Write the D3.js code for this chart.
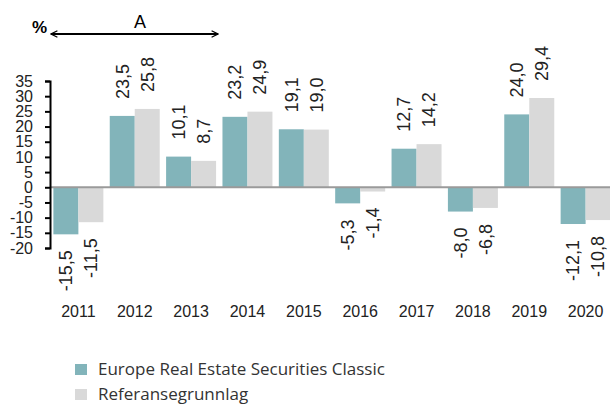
<!DOCTYPE html>
<html>
<head>
<meta charset="utf-8">
<script src="https://cdn.jsdelivr.net/npm/d3@7"></script>
<style>
  body { margin: 0; background: #fff; }
  svg { display: block; }
</style>
</head>
<body>
<div id="chart"></div>
<script>
const years = ["2011", "2012", "2013", "2014", "2015", "2016", "2017", "2018", "2019", "2020"];
const fund = [-15.5, 23.5, 10.1, 23.2, 19.1, -5.3, 12.7, -8.0, 24.0, -12.1];
const benchmark = [-11.5, 25.8, 8.7, 24.9, 19.0, -1.4, 14.2, -6.8, 29.4, -10.8];
const seriesNames = ["Europe Real Estate Securities Classic", "Referansegrunnlag"];
const yTicks = [35, 30, 25, 20, 15, 10, 5, 0, -5, -10, -15, -20];

function main() {
    const width = 610;
    const height = 404;
    const colors = ["#82b4ba", "#d9d9d9"];
    const numFont = "'Liberation Sans', Arial, sans-serif";

    const svg = d3.select("#chart").append("svg")
        .attr("width", width)
        .attr("height", height);

    const x0 = d3.scaleBand()
        .domain(years)
        .range([50, 614])
        .paddingInner(0.113)
        .paddingOuter(0.06);

    const x1 = d3.scaleBand()
        .domain([0, 1])
        .range([0, x0.bandwidth()]);

    const y = d3.scaleLinear()
        .domain([-20, 35])
        .range([248, 81]);

    // plain hyphen minus, comma decimal
    const fmt = v => d3.format(".1f")(v).replace("\u2212", "-").replace(".", ",");

    const data = years.map((yr, i) => ({ year: yr, values: [fund[i], benchmark[i]] }));

    // bars
    const groups = svg.append("g").selectAll("g")
        .data(data)
        .enter().append("g")
        .attr("transform", d => "translate(" + x0(d.year) + ",0)");

    groups.selectAll("rect")
        .data(d => d.values.map((v, k) => ({ v: v, k: k })))
        .enter().append("rect")
        .attr("x", d => x1(d.k))
        .attr("width", x1.bandwidth())
        .attr("y", d => y(Math.max(0, d.v)))
        .attr("height", d => Math.abs(y(d.v) - y(0)))
        .attr("fill", d => colors[d.k]);

    // value labels, rotated
    groups.selectAll("text")
        .data(d => d.values.map((v, k) => ({ v: v, k: k })))
        .enter().append("text")
        .attr("transform", d => {
            const cx = x1(d.k) + x1.bandwidth() / 2;
            const cy = d.v >= 0 ? y(d.v) - 17 : y(d.v) + 16;
            return "translate(" + cx + "," + cy + ") rotate(-90)";
        })
        .attr("text-anchor", d => d.v >= 0 ? "start" : "end")
        .attr("dy", "0.35em")
        .attr("font-family", numFont)
        .attr("font-size", "18px")
        .attr("fill", "#222")
        .text(d => fmt(d.v));

    // zero line
    svg.append("line")
        .attr("x1", 50).attr("x2", width)
        .attr("y1", y(0)).attr("y2", y(0))
        .attr("stroke", "#9a9a9a")
        .attr("stroke-width", 2);

    // y axis
    const yAxis = svg.append("g")
        .attr("transform", "translate(50,0)")
        .call(d3.axisLeft(y).tickValues(yTicks).tickSize(5).tickPadding(12)
            .tickFormat(d => String(d)));
    yAxis.select(".domain").attr("stroke", "#000").attr("stroke-width", 2);
    yAxis.selectAll(".tick line").attr("stroke", "#000").attr("stroke-width", 2);
    yAxis.selectAll("text")
        .attr("font-family", numFont)
        .attr("font-size", "16px")
        .attr("fill", "#222");

    // year labels
    svg.append("g").selectAll("text")
        .data(years)
        .enter().append("text")
        .attr("x", d => x0(d) + x0.bandwidth() / 2)
        .attr("y", 317)
        .attr("text-anchor", "middle")
        .attr("font-family", numFont)
        .attr("font-size", "16px")
        .attr("fill", "#222")
        .text(d => d);

    // header: % and arrow A
    svg.append("text")
        .attr("x", 32).attr("y", 33)
        .attr("font-family", numFont)
        .attr("font-weight", "bold")
        .attr("font-size", "17px")
        .text("%");

    const defs = svg.append("defs");
    defs.append("marker")
        .attr("id", "arr")
        .attr("viewBox", "0 0 10 10")
        .attr("refX", 9).attr("refY", 5)
        .attr("markerWidth", 8).attr("markerHeight", 8)
        .attr("markerUnits", "userSpaceOnUse")
        .attr("orient", "auto-start-reverse")
        .append("path")
        .attr("d", "M1,1 L9,5 L1,9")
        .attr("fill", "none")
        .attr("stroke", "#000")
        .attr("stroke-width", 1.6);

    svg.append("line")
        .attr("x1", 51).attr("x2", 218)
        .attr("y1", 34).attr("y2", 34)
        .attr("stroke", "#000")
        .attr("stroke-width", 2)
        .attr("marker-start", "url(#arr)")
        .attr("marker-end", "url(#arr)");

    svg.append("text")
        .attr("x", 140).attr("y", 28)
        .attr("text-anchor", "middle")
        .attr("font-family", numFont)
        .attr("font-size", "18px")
        .text("A");

    // legend
    const legend = svg.append("g").selectAll("g")
        .data(seriesNames)
        .enter().append("g")
        .attr("transform", (d, i) => "translate(75," + (364 + i * 25) + ")");
    legend.append("rect")
        .attr("width", 12).attr("height", 11)
        .attr("fill", (d, i) => colors[i]);
    legend.append("text")
        .attr("x", 23).attr("y", 5)
        .attr("dy", "0.35em")
        .attr("font-family", "'Open Sans', sans-serif")
        .attr("font-size", "17px")
        .attr("fill", "#333")
        .text(d => d);
}
main();
</script>
</body>
</html>
